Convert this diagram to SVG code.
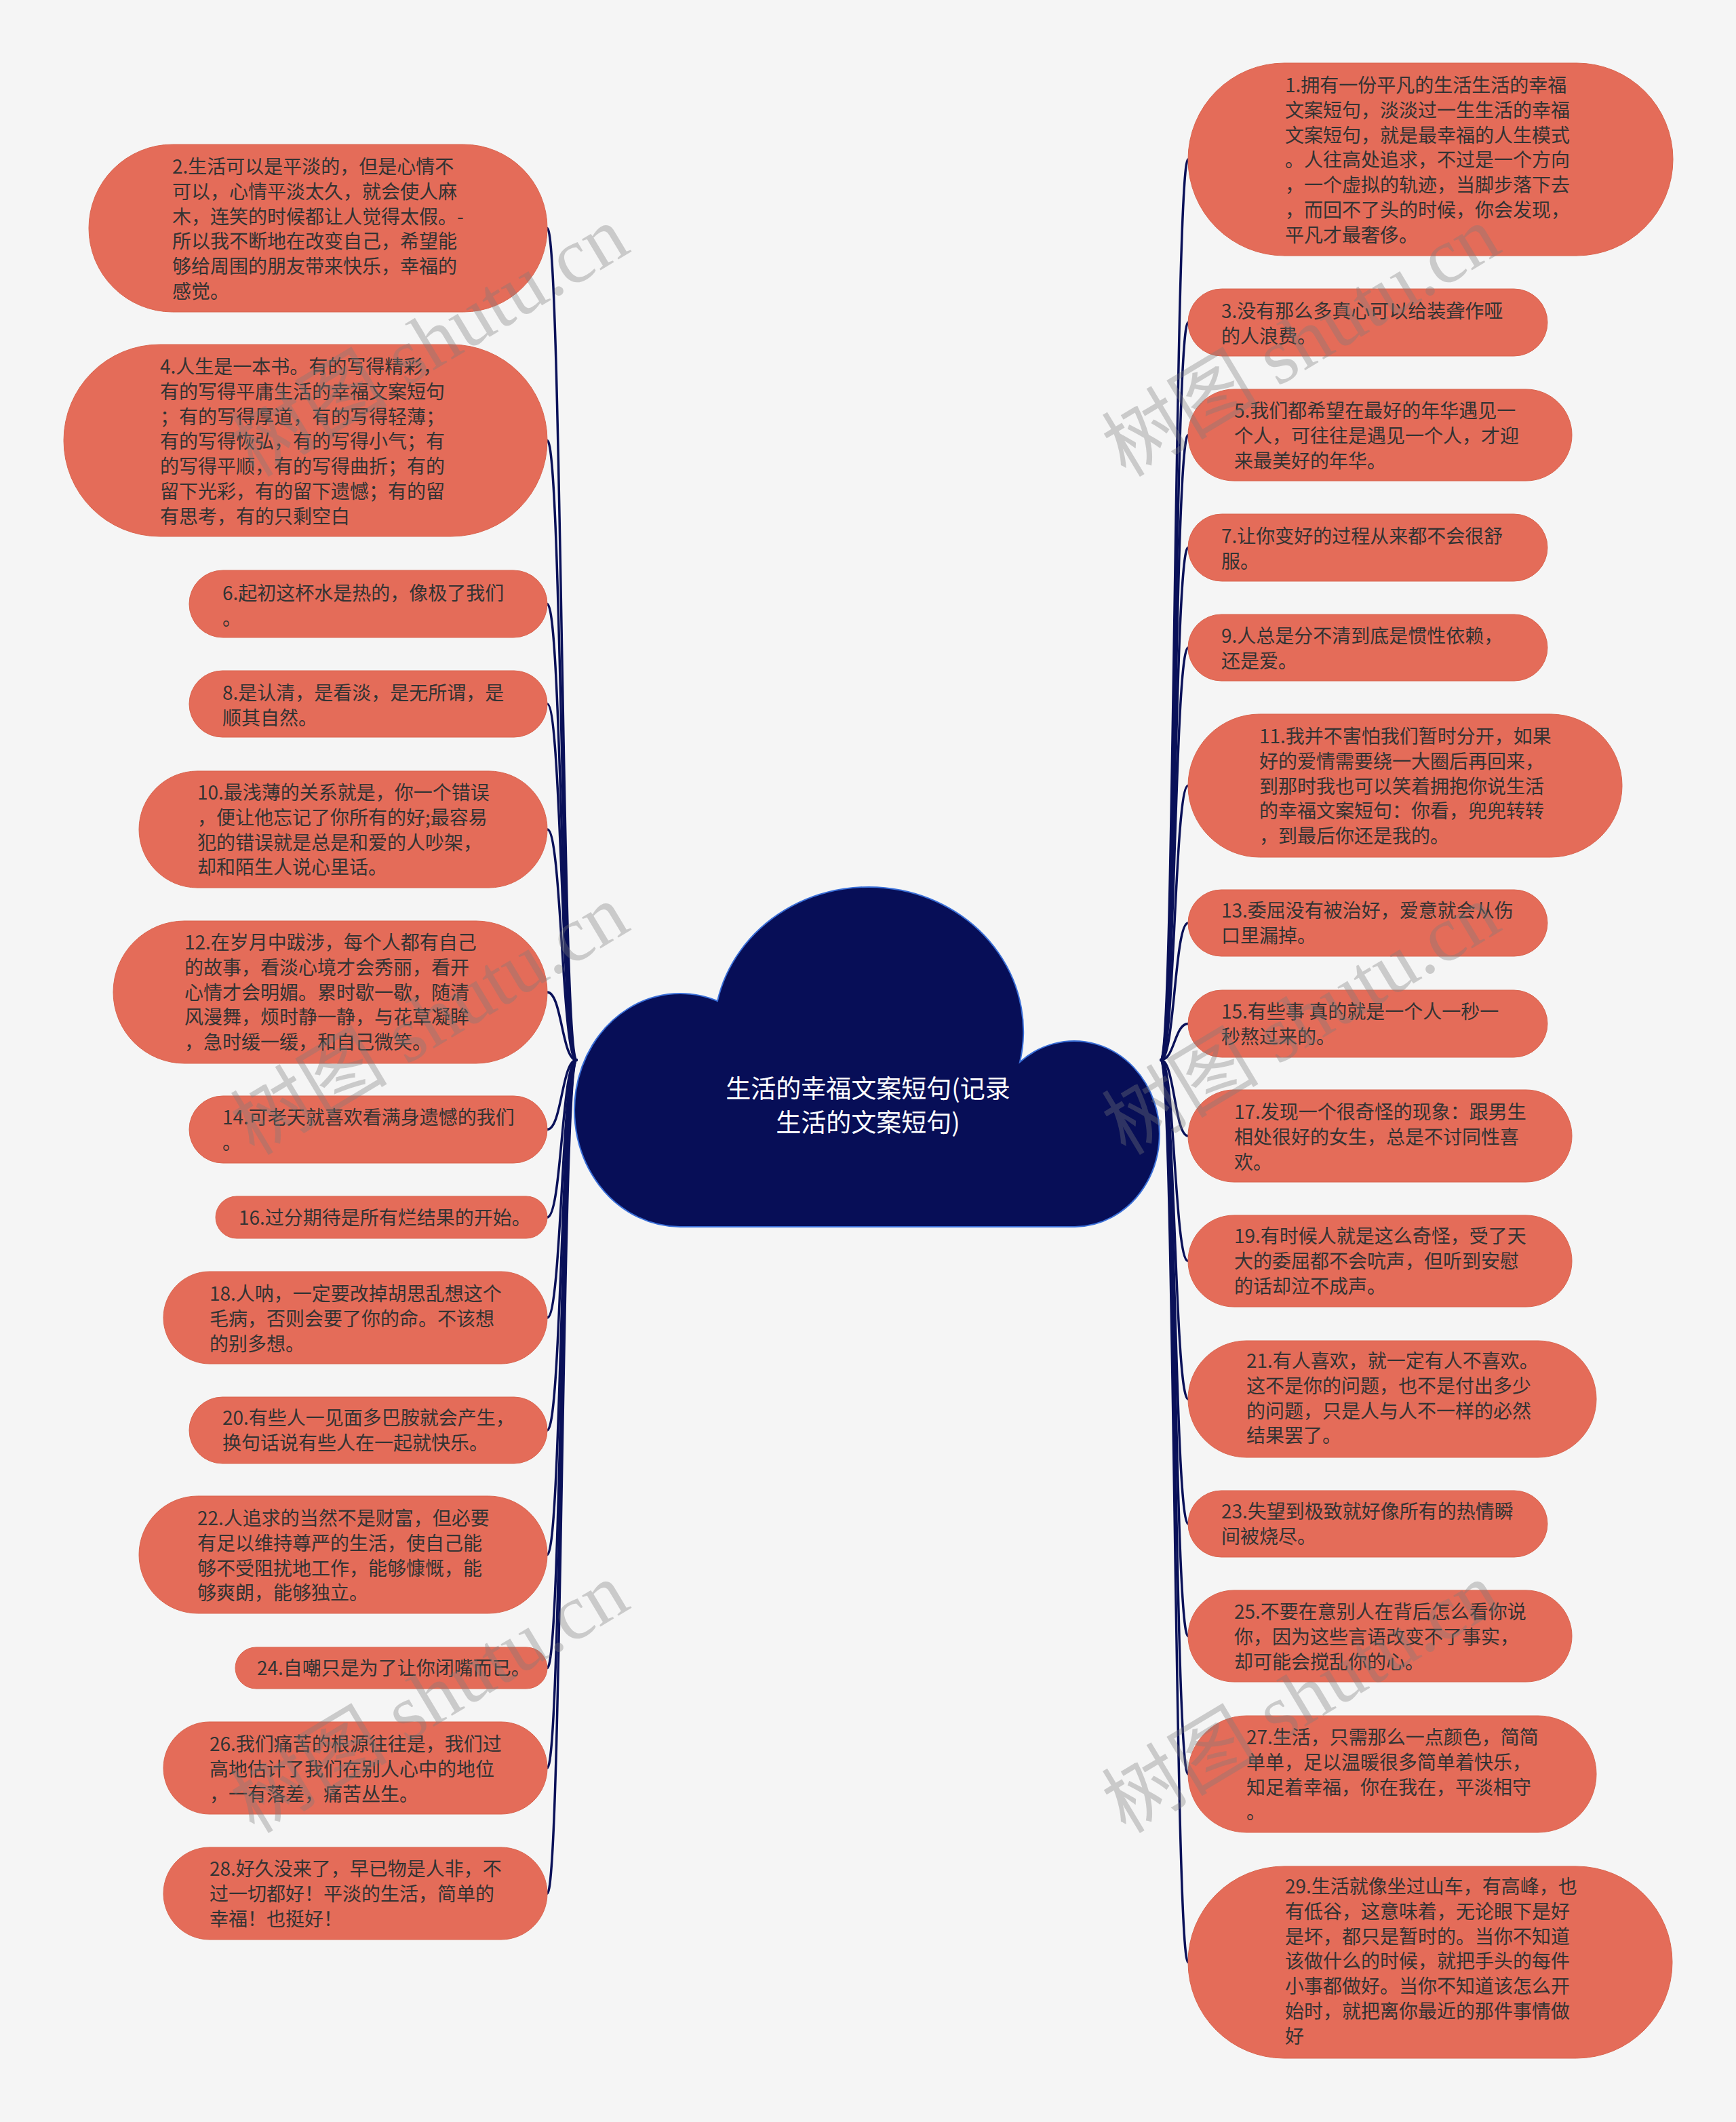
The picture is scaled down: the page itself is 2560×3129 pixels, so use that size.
<svg xmlns="http://www.w3.org/2000/svg" width="2560" height="3129" viewBox="0 0 2560 3129">
<style>
.bg{fill:#f5f5f5}
.leaf rect{fill:#e46c59;stroke:#d9654f;stroke-width:1}
.leaf text{font-family:"Noto Sans CJK SC","Liberation Sans",sans-serif;font-size:28px;fill:#333333}
.conn path{fill:none;stroke:#0a1159;stroke-width:3.5;stroke-linecap:round}
.title{font-family:"Noto Sans CJK SC","Liberation Sans",sans-serif;font-size:37px;fill:#ffffff;text-anchor:middle}
.wm{font-family:"Liberation Serif","Noto Sans CJK SC",serif;font-size:116px;fill:#7a7a7a;fill-opacity:0.35}
</style>
<rect class="bg" x="0" y="0" width="2560" height="3129"/>

<g id="connectors" class="conn">
<path d="M850 1563 C828.5 1563 828.5 336.5 807 336.5"/>
<path d="M850 1563 C828.5 1563 828.5 649.5 807 649.5"/>
<path d="M850 1563 C828.5 1563 828.5 890.5 807 890.5"/>
<path d="M850 1563 C828.5 1563 828.5 1038 807 1038"/>
<path d="M850 1563 C828.5 1563 828.5 1223 807 1223"/>
<path d="M850 1563 C828.5 1563 828.5 1463 807 1463"/>
<path d="M850 1563 C828.5 1563 828.5 1665.5 807 1665.5"/>
<path d="M850 1563 C828.5 1563 828.5 1795 807 1795"/>
<path d="M850 1563 C828.5 1563 828.5 1943 807 1943"/>
<path d="M850 1563 C828.5 1563 828.5 2109 807 2109"/>
<path d="M850 1563 C828.5 1563 828.5 2292.5 807 2292.5"/>
<path d="M850 1563 C828.5 1563 828.5 2459.5 807 2459.5"/>
<path d="M850 1563 C828.5 1563 828.5 2607 807 2607"/>
<path d="M850 1563 C828.5 1563 828.5 2792 807 2792"/>
<path d="M1712 1563 C1732 1563 1732 235 1752 235"/>
<path d="M1712 1563 C1732 1563 1732 475.5 1752 475.5"/>
<path d="M1712 1563 C1732 1563 1732 641.5 1752 641.5"/>
<path d="M1712 1563 C1732 1563 1732 807.5 1752 807.5"/>
<path d="M1712 1563 C1732 1563 1732 955 1752 955"/>
<path d="M1712 1563 C1732 1563 1732 1158.5 1752 1158.5"/>
<path d="M1712 1563 C1732 1563 1732 1361 1752 1361"/>
<path d="M1712 1563 C1732 1563 1732 1509.5 1752 1509.5"/>
<path d="M1712 1563 C1732 1563 1732 1675 1752 1675"/>
<path d="M1712 1563 C1732 1563 1732 1859.5 1752 1859.5"/>
<path d="M1712 1563 C1732 1563 1732 2063 1752 2063"/>
<path d="M1712 1563 C1732 1563 1732 2247 1752 2247"/>
<path d="M1712 1563 C1732 1563 1732 2412.5 1752 2412.5"/>
<path d="M1712 1563 C1732 1563 1732 2616 1752 2616"/>
<path d="M1712 1563 C1732 1563 1732 2893.5 1752 2893.5"/>
</g>

<g id="root">
<path d="M1004 1809 A156 172 0 1 1 1058 1476 A228 213 0 0 1 1504 1566 A126 137 0 1 1 1585 1809 Z" fill="#070e57" stroke="#3a6fd8" stroke-width="2"/>
<text class="title" x="1280" y="1619">生活的幸福文案短句(记录</text>
<text class="title" x="1280" y="1669">生活的文案短句)</text>
</g>

<g id="n2" class="leaf"><rect x="131" y="213" width="676" height="247" rx="123.5"/>
<text x="254" y="256"><tspan x="254">2.生活可以是平淡的，但是心情不</tspan><tspan x="254" dy="36.75">可以，心情平淡太久，就会使人麻</tspan><tspan x="254" dy="36.75">木，连笑的时候都让人觉得太假。-</tspan><tspan x="254" dy="36.75">所以我不断地在改变自己，希望能</tspan><tspan x="254" dy="36.75">够给周围的朋友带来快乐，幸福的</tspan><tspan x="254" dy="36.75">感觉。</tspan></text></g>

<g id="n4" class="leaf"><rect x="94" y="508" width="713" height="283" rx="141.5"/>
<text x="236" y="551"><tspan x="236">4.人生是一本书。有的写得精彩，</tspan><tspan x="236" dy="36.75">有的写得平庸生活的幸福文案短句</tspan><tspan x="236" dy="36.75">；有的写得厚道，有的写得轻薄；</tspan><tspan x="236" dy="36.75">有的写得恢弘，有的写得小气；有</tspan><tspan x="236" dy="36.75">的写得平顺，有的写得曲折；有的</tspan><tspan x="236" dy="36.75">留下光彩，有的留下遗憾；有的留</tspan><tspan x="236" dy="36.75">有思考，有的只剩空白</tspan></text></g>

<g id="n6" class="leaf"><rect x="279" y="841" width="528" height="99" rx="49.5"/>
<text x="328" y="885"><tspan x="328">6.起初这杯水是热的，像极了我们</tspan><tspan x="328" dy="36.75">。</tspan></text></g>

<g id="n8" class="leaf"><rect x="279" y="989" width="528" height="98" rx="49"/>
<text x="328" y="1032"><tspan x="328">8.是认清，是看淡，是无所谓，是</tspan><tspan x="328" dy="36.75">顺其自然。</tspan></text></g>

<g id="n10" class="leaf"><rect x="205" y="1137" width="602" height="172" rx="86"/>
<text x="291" y="1179"><tspan x="291">10.最浅薄的关系就是，你一个错误</tspan><tspan x="291" dy="36.75">，便让他忘记了你所有的好;最容易</tspan><tspan x="291" dy="36.75">犯的错误就是总是和爱的人吵架，</tspan><tspan x="291" dy="36.75">却和陌生人说心里话。</tspan></text></g>

<g id="n12" class="leaf"><rect x="167" y="1358" width="640" height="210" rx="105"/>
<text x="272" y="1400"><tspan x="272">12.在岁月中跋涉，每个人都有自己</tspan><tspan x="272" dy="36.75">的故事，看淡心境才会秀丽，看开</tspan><tspan x="272" dy="36.75">心情才会明媚。累时歇一歇，随清</tspan><tspan x="272" dy="36.75">风漫舞，烦时静一静，与花草凝眸</tspan><tspan x="272" dy="36.75">，急时缓一缓，和自己微笑。</tspan></text></g>

<g id="n14" class="leaf"><rect x="279" y="1616" width="528" height="99" rx="49.5"/>
<text x="328" y="1658"><tspan x="328">14.可老天就喜欢看满身遗憾的我们</tspan><tspan x="328" dy="36.75">。</tspan></text></g>

<g id="n16" class="leaf"><rect x="318" y="1764" width="489" height="62" rx="31"/>
<text x="352" y="1806">16.过分期待是所有烂结果的开始。</text></g>

<g id="n18" class="leaf"><rect x="241" y="1875" width="566" height="136" rx="68"/>
<text x="309" y="1918"><tspan x="309">18.人呐，一定要改掉胡思乱想这个</tspan><tspan x="309" dy="36.75">毛病，否则会要了你的命。不该想</tspan><tspan x="309" dy="36.75">的别多想。</tspan></text></g>

<g id="n20" class="leaf"><rect x="279" y="2060" width="528" height="98" rx="49"/>
<text x="328" y="2101"><tspan x="328">20.有些人一见面多巴胺就会产生，</tspan><tspan x="328" dy="36.75">换句话说有些人在一起就快乐。</tspan></text></g>

<g id="n22" class="leaf"><rect x="205" y="2206" width="602" height="173" rx="86.5"/>
<text x="291" y="2249"><tspan x="291">22.人追求的当然不是财富，但必要</tspan><tspan x="291" dy="36.75">有足以维持尊严的生活，使自己能</tspan><tspan x="291" dy="36.75">够不受阻扰地工作，能够慷慨，能</tspan><tspan x="291" dy="36.75">够爽朗，能够独立。</tspan></text></g>

<g id="n24" class="leaf"><rect x="347" y="2429" width="460" height="61" rx="30.5"/>
<text x="379" y="2470">24.自嘲只是为了让你闭嘴而已。</text></g>

<g id="n26" class="leaf"><rect x="241" y="2539" width="566" height="136" rx="68"/>
<text x="309" y="2582"><tspan x="309">26.我们痛苦的根源往往是，我们过</tspan><tspan x="309" dy="36.75">高地估计了我们在别人心中的地位</tspan><tspan x="309" dy="36.75">，一有落差，痛苦丛生。</tspan></text></g>

<g id="n28" class="leaf"><rect x="241" y="2724" width="566" height="136" rx="68"/>
<text x="309" y="2766"><tspan x="309">28.好久没来了，早已物是人非，不</tspan><tspan x="309" dy="36.75">过一切都好！平淡的生活，简单的</tspan><tspan x="309" dy="36.75">幸福！也挺好！</tspan></text></g>

<g id="n1" class="leaf"><rect x="1752" y="93" width="715" height="284" rx="142"/>
<text x="1895" y="136"><tspan x="1895">1.拥有一份平凡的生活生活的幸福</tspan><tspan x="1895" dy="36.75">文案短句，淡淡过一生生活的幸福</tspan><tspan x="1895" dy="36.75">文案短句，就是最幸福的人生模式</tspan><tspan x="1895" dy="36.75">。人往高处追求，不过是一个方向</tspan><tspan x="1895" dy="36.75">，一个虚拟的轨迹，当脚步落下去</tspan><tspan x="1895" dy="36.75">，而回不了头的时候，你会发现，</tspan><tspan x="1895" dy="36.75">平凡才最奢侈。</tspan></text></g>

<g id="n3" class="leaf"><rect x="1752" y="426" width="530" height="99" rx="49.5"/>
<text x="1801" y="469"><tspan x="1801">3.没有那么多真心可以给装聋作哑</tspan><tspan x="1801" dy="36.75">的人浪费。</tspan></text></g>

<g id="n5" class="leaf"><rect x="1752" y="574" width="566" height="135" rx="67.5"/>
<text x="1820" y="616"><tspan x="1820">5.我们都希望在最好的年华遇见一</tspan><tspan x="1820" dy="36.75">个人，可往往是遇见一个人，才迎</tspan><tspan x="1820" dy="36.75">来最美好的年华。</tspan></text></g>

<g id="n7" class="leaf"><rect x="1752" y="758" width="530" height="99" rx="49.5"/>
<text x="1801" y="801"><tspan x="1801">7.让你变好的过程从来都不会很舒</tspan><tspan x="1801" dy="36.75">服。</tspan></text></g>

<g id="n9" class="leaf"><rect x="1752" y="906" width="530" height="98" rx="49"/>
<text x="1801" y="948"><tspan x="1801">9.人总是分不清到底是惯性依赖，</tspan><tspan x="1801" dy="36.75">还是爱。</tspan></text></g>

<g id="n11" class="leaf"><rect x="1752" y="1053" width="640" height="211" rx="105.5"/>
<text x="1857" y="1096"><tspan x="1857">11.我并不害怕我们暂时分开，如果</tspan><tspan x="1857" dy="36.75">好的爱情需要绕一大圈后再回来，</tspan><tspan x="1857" dy="36.75">到那时我也可以笑着拥抱你说生活</tspan><tspan x="1857" dy="36.75">的幸福文案短句：你看，兜兜转转</tspan><tspan x="1857" dy="36.75">，到最后你还是我的。</tspan></text></g>

<g id="n13" class="leaf"><rect x="1752" y="1312" width="530" height="98" rx="49"/>
<text x="1801" y="1353"><tspan x="1801">13.委屈没有被治好，爱意就会从伤</tspan><tspan x="1801" dy="36.75">口里漏掉。</tspan></text></g>

<g id="n15" class="leaf"><rect x="1752" y="1460" width="530" height="99" rx="49.5"/>
<text x="1801" y="1502"><tspan x="1801">15.有些事 真的就是一个人一秒一</tspan><tspan x="1801" dy="36.75">秒熬过来的。</tspan></text></g>

<g id="n17" class="leaf"><rect x="1752" y="1607" width="566" height="136" rx="68"/>
<text x="1820" y="1650"><tspan x="1820">17.发现一个很奇怪的现象：跟男生</tspan><tspan x="1820" dy="36.75">相处很好的女生，总是不讨同性喜</tspan><tspan x="1820" dy="36.75">欢。</tspan></text></g>

<g id="n19" class="leaf"><rect x="1752" y="1792" width="566" height="135" rx="67.5"/>
<text x="1820" y="1833"><tspan x="1820">19.有时候人就是这么奇怪，受了天</tspan><tspan x="1820" dy="36.75">大的委屈都不会吭声，但听到安慰</tspan><tspan x="1820" dy="36.75">的话却泣不成声。</tspan></text></g>

<g id="n21" class="leaf"><rect x="1752" y="1977" width="602" height="172" rx="86"/>
<text x="1838" y="2017"><tspan x="1838">21.有人喜欢，就一定有人不喜欢。</tspan><tspan x="1838" dy="36.75">这不是你的问题，也不是付出多少</tspan><tspan x="1838" dy="36.75">的问题，只是人与人不一样的必然</tspan><tspan x="1838" dy="36.75">结果罢了。</tspan></text></g>

<g id="n23" class="leaf"><rect x="1752" y="2198" width="530" height="98" rx="49"/>
<text x="1801" y="2239"><tspan x="1801">23.失望到极致就好像所有的热情瞬</tspan><tspan x="1801" dy="36.75">间被烧尽。</tspan></text></g>

<g id="n25" class="leaf"><rect x="1752" y="2345" width="566" height="135" rx="67.5"/>
<text x="1820" y="2387"><tspan x="1820">25.不要在意别人在背后怎么看你说</tspan><tspan x="1820" dy="36.75">你，因为这些言语改变不了事实，</tspan><tspan x="1820" dy="36.75">却可能会搅乱你的心。</tspan></text></g>

<g id="n27" class="leaf"><rect x="1752" y="2530" width="602" height="172" rx="86"/>
<text x="1838" y="2572"><tspan x="1838">27.生活，只需那么一点颜色，简简</tspan><tspan x="1838" dy="36.75">单单，足以温暖很多简单着快乐，</tspan><tspan x="1838" dy="36.75">知足着幸福，你在我在，平淡相守</tspan><tspan x="1838" dy="36.75">。</tspan></text></g>

<g id="n29" class="leaf"><rect x="1752" y="2752" width="714" height="283" rx="141.5"/>
<text x="1895" y="2792"><tspan x="1895">29.生活就像坐过山车，有高峰，也</tspan><tspan x="1895" dy="36.75">有低谷，这意味着，无论眼下是好</tspan><tspan x="1895" dy="36.75">是坏，都只是暂时的。当你不知道</tspan><tspan x="1895" dy="36.75">该做什么的时候，就把手头的每件</tspan><tspan x="1895" dy="36.75">小事都做好。当你不知道该怎么开</tspan><tspan x="1895" dy="36.75">始时，就把离你最近的那件事情做</tspan><tspan x="1895" dy="36.75">好</tspan></text></g>

<g id="watermarks" class="wm">
<text transform="translate(375 705) rotate(-31)">树图 shutu.cn</text>
<text transform="translate(375 1705) rotate(-31)">树图 shutu.cn</text>
<text transform="translate(375 2705) rotate(-31)">树图 shutu.cn</text>
<text transform="translate(1660 705) rotate(-31)">树图 shutu.cn</text>
<text transform="translate(1660 1705) rotate(-31)">树图 shutu.cn</text>
<text transform="translate(1660 2705) rotate(-31)">树图 shutu.cn</text>
</g>
</svg>
